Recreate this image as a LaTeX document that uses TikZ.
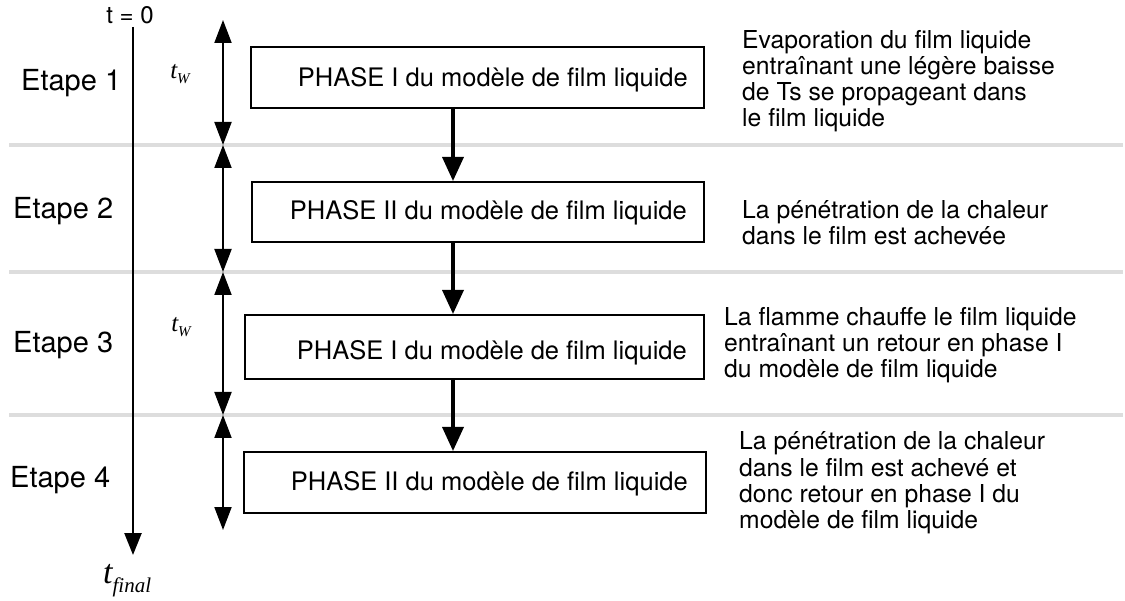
\documentclass[tikz,border=0pt]{standalone}
\usepackage{fontspec}
\setmainfont{TeX Gyre Heros}
\newfontfamily\timesf{Liberation Serif}
\usetikzlibrary{arrows.meta}
\definecolor{sepgray}{RGB}{221,221,221}
\begin{document}
\begin{tikzpicture}[x=1pt,y=-1pt,
  sepline/.style={line width=4pt, draw=sepgray},
  box/.style={draw, line width=2pt, anchor=north west, inner sep=0pt},
  boxtext/.style={font=\fontsize{25.5}{26}\selectfont, anchor=base east, inner sep=0pt},
  desc/.style={font=\fontsize{24.7}{26}\selectfont, align=left, anchor=base west, inner sep=0pt},
  etape/.style={font=\fontsize{29}{30}\selectfont, anchor=base west, inner sep=0pt},
  twlabel/.style={font=\timesf\itshape\fontsize{25}{26}\selectfont, inner sep=0pt},
  dbl/.style={line width=2pt, {Triangle[width=17pt,length=23pt]}-{Triangle[width=17pt,length=23pt]}},
  flow/.style={line width=3.5pt, -{Triangle[width=21pt,length=24pt]}},
  axis/.style={line width=2.5pt, -{Triangle[width=17pt,length=22pt]}}]
\useasboundingbox (0,0) rectangle (1125,601);

% separators
\coordinate (s1a) at (9,145);  \coordinate (s1b) at (1123,145);
\coordinate (s2a) at (9,272);  \coordinate (s2b) at (1123,272);
\coordinate (s3a) at (9,415);  \coordinate (s3b) at (1123,415);
\draw[sepline] (s1a) -- (s1b);
\draw[sepline] (s2a) -- (s2b);
\draw[sepline] (s3a) -- (s3b);

% time axis
\node[font=\fontsize{24}{24}\selectfont, inner sep=0pt, anchor=base] (t0) at (130,24) {t = 0};
\coordinate (atop) at (133,27);
\node[inner sep=0pt, anchor=base west] (tfin) at (103,583)
  {\timesf\itshape\fontsize{34}{34}\selectfont t\raisebox{-9pt}{\fontsize{21}{21}\selectfont final}};
\coordinate (abot) at (133,555);
\draw[axis] (atop) -- (abot);

% stage labels
\node[etape] (e1) at (21,91) {Etape 1};
\node[etape] (e2) at (13,219) {Etape 2};
\node[etape] (e3) at (13,353) {Etape 3};
\node[etape] (e4) at (10,488) {Etape 4};

% duration arrows
\coordinate (d0) at (223,20);
\coordinate (d1) at (223,145);
\coordinate (d2) at (223,272);
\coordinate (d3) at (223,415);
\coordinate (d4) at (223,530);
\draw[dbl] (d0) -- (d1);
\draw[dbl] (d1) -- (d2);
\draw[dbl] (d2) -- (d3);
\draw[dbl] (d3) -- (d4);
\node[twlabel] (tw1) at (180,74) {t\raisebox{-5pt}{\fontsize{15}{15}\selectfont W}};
\node[twlabel] (tw2) at (181,327) {t\raisebox{-5pt}{\fontsize{15}{15}\selectfont W}};

% boxes
\node[box, minimum width=453pt, minimum height=61pt] (b1) at (250,46) {};
\node[box, minimum width=452pt, minimum height=60pt] (b2) at (251,181) {};
\node[box, minimum width=459pt, minimum height=64pt] (b3) at (244,314) {};
\node[box, minimum width=462pt, minimum height=61pt] (b4) at (243,451) {};
\node[boxtext] (p1) at (688,87) {PHASE I du modèle de film liquide};
\node[boxtext] (p2) at (687,220) {PHASE II du modèle de film liquide};
\node[boxtext] (p3) at (687,360) {PHASE I du modèle de film liquide};
\node[boxtext] (p4) at (688,490) {PHASE II du modèle de film liquide};

% flow arrows
\draw[flow] (b1.south -| 453,0) -- (b2.north -| 453,0);
\draw[flow] (b2.south -| 453,0) -- (b3.north -| 453,0);
\draw[flow] (b3.south -| 453,0) -- (b4.north -| 453,0);

% descriptions (base anchor = last line baseline)
\node[desc] (t1) at (742,127) {Evaporation du film liquide\\entraînant une légère baisse\\de Ts se propageant dans\\le film liquide};
\node[desc] (t2) at (742,245) {La pénétration de la chaleur\\dans le film est achevée};
\node[desc] (t3) at (724,378) {La flamme chauffe le film liquide\\entraînant un retour en phase I\\du modèle de film liquide};
\node[desc] (t4) at (739,528) {La pénétration de la chaleur\\dans le film est achevé et\\donc retour en phase I du\\modèle de film liquide};
\end{tikzpicture}
\end{document}
